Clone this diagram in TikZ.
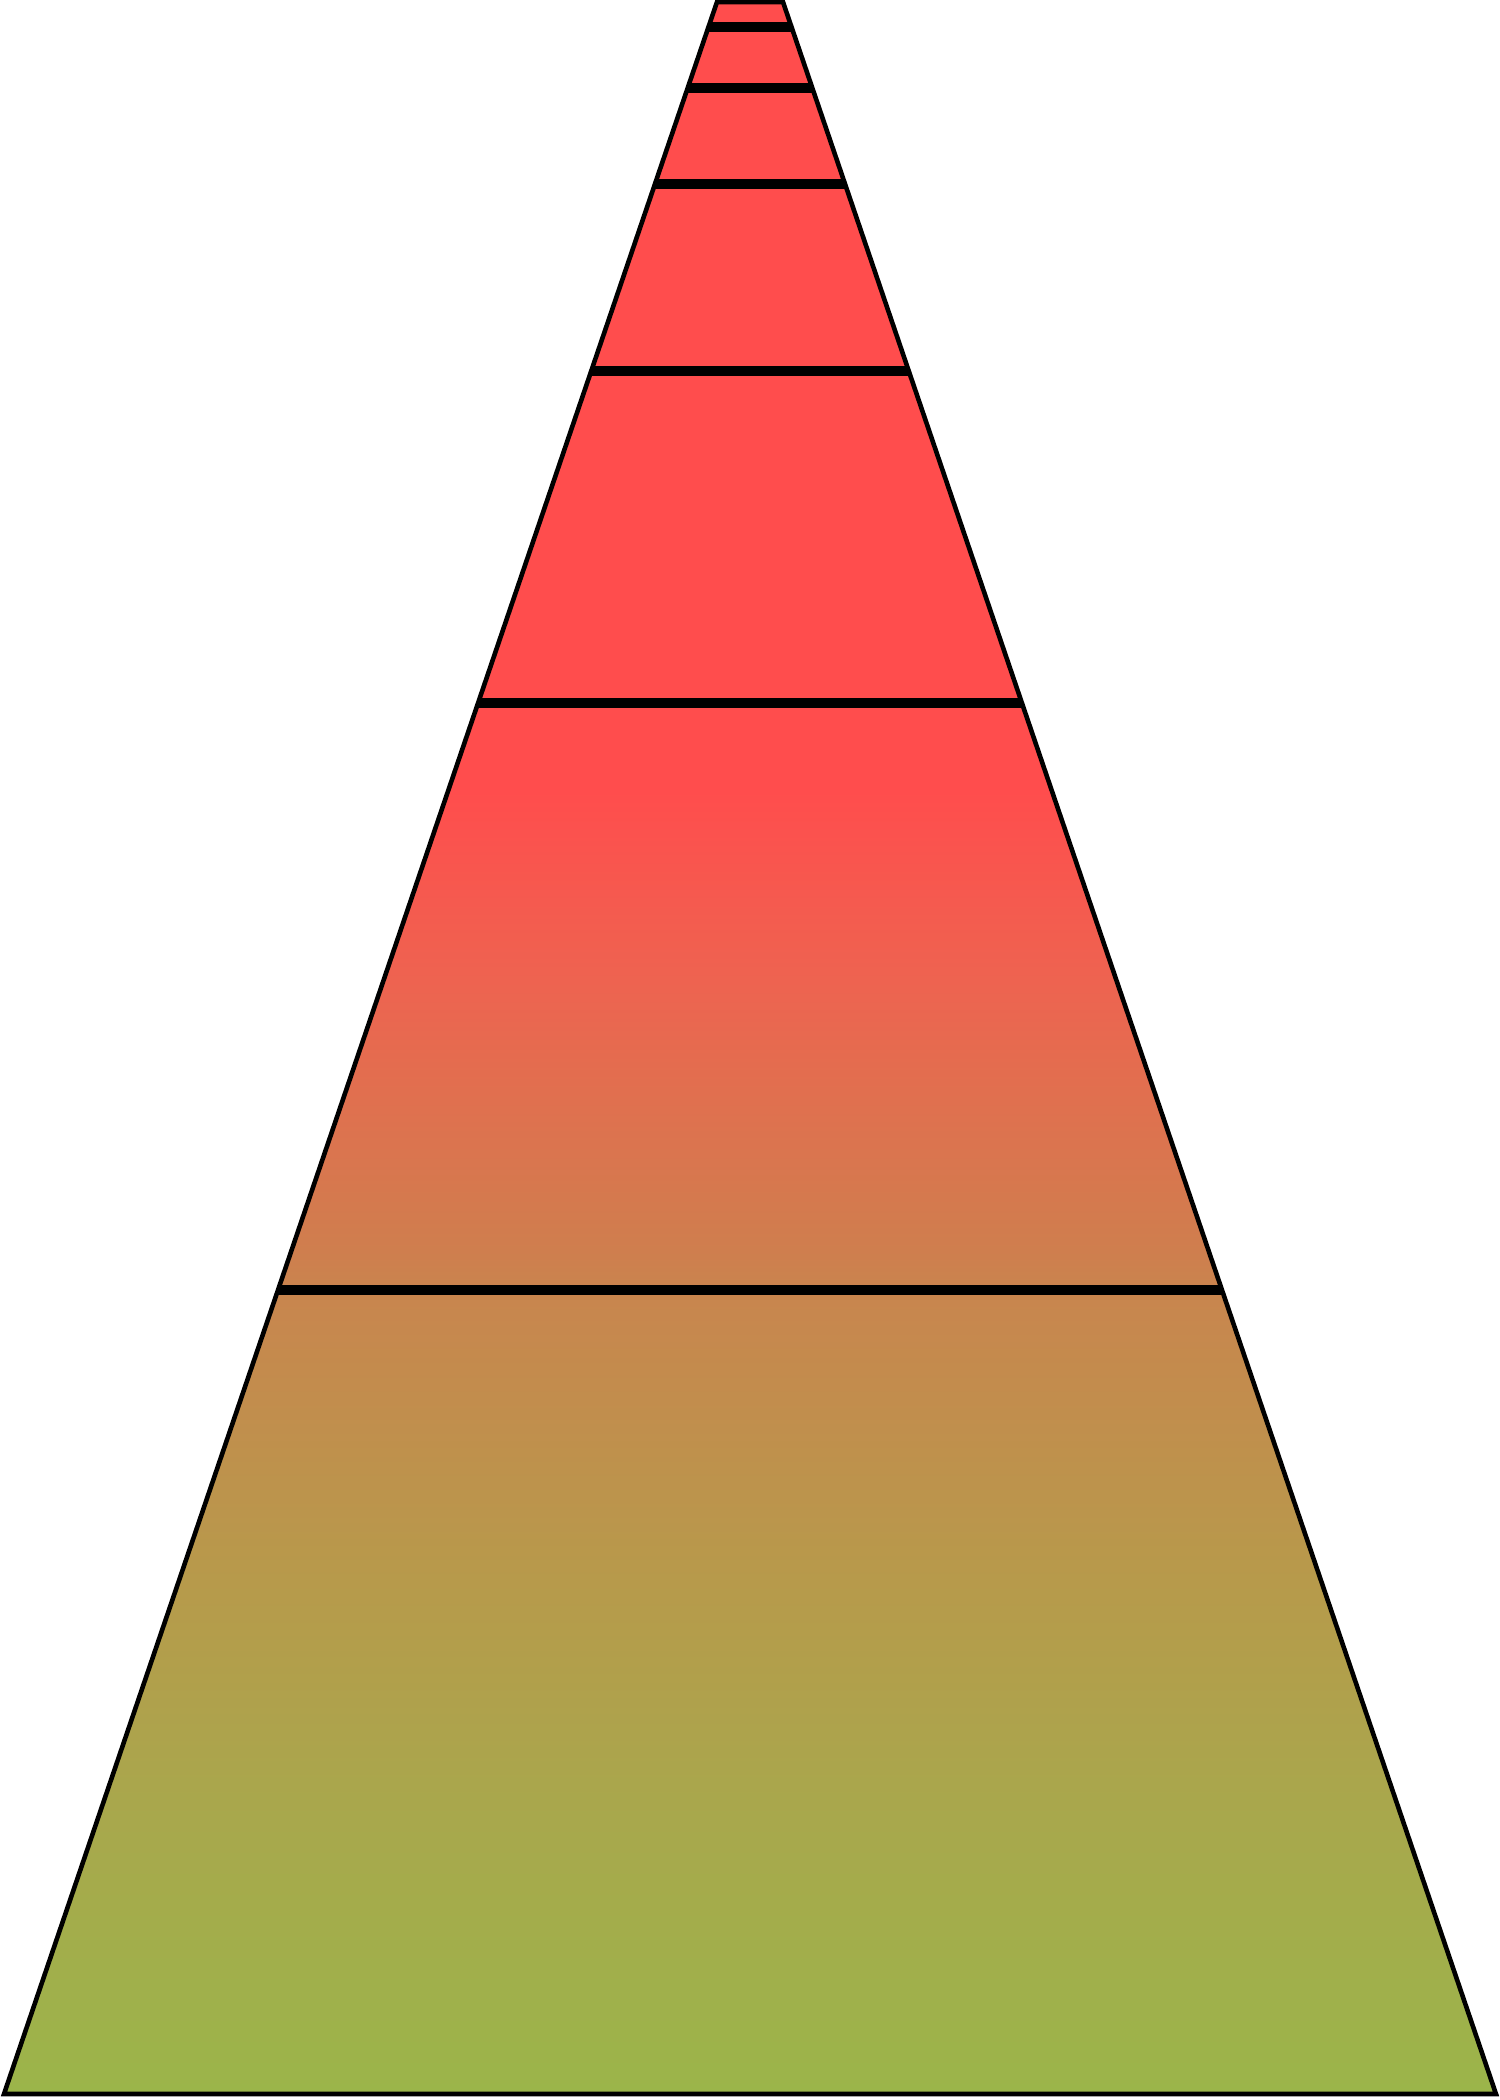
\documentclass[tikz,border=0pt]{standalone}
\usetikzlibrary{calc}
\definecolor{cA}{RGB}{155,181,74}
\definecolor{cB}{RGB}{169,167,76}
\definecolor{cC}{RGB}{183,154,75}
\definecolor{cD}{RGB}{200,134,78}
\definecolor{cE}{RGB}{207,126,78}
\definecolor{cF}{RGB}{224,112,79}
\definecolor{cG}{RGB}{238,99,80}
\definecolor{cH}{RGB}{255,77,77}
\pgfdeclareverticalshading{pyrshade}{100bp}{color(0bp)=(cA); color(25bp)=(cA); color(32.03bp)=(cB); color(37.28bp)=(cC); color(43.98bp)=(cD); color(45.17bp)=(cE); color(48.76bp)=(cF); color(51.63bp)=(cG); color(56.17bp)=(cH); color(75bp)=(cH); color(100bp)=(cH)}
\begin{document}
\begin{tikzpicture}[x=1cm,y=1cm,
  outline/.style={draw=black,line width=1.3pt,line join=miter},
  band/.style={draw=black,line width=2.85pt,line cap=butt}]
\useasboundingbox (0,0) rectangle (15,21);
\coordinate (BL) at (0.04,0.06);
\coordinate (BR) at (14.96,0.06);
\coordinate (TL) at (7.17,20.98);
\coordinate (TR) at (7.83,20.98);
\path[shading=pyrshade] (BL) -- (BR) -- (TR) -- (TL) -- cycle;
\foreach \t/\n in {0.98805/a,0.95889/b,0.91300/c,0.82361/d,0.66491/e,0.38432/f}{
  \coordinate (L\n) at ($(BL)!\t!(TL)$);
  \coordinate (R\n) at ($(BR)!\t!(TR)$);
  \draw[band] (L\n) -- (R\n);
}
\draw[outline] (BL) -- (BR) -- (TR) -- (TL) -- cycle;
\end{tikzpicture}
\end{document}
